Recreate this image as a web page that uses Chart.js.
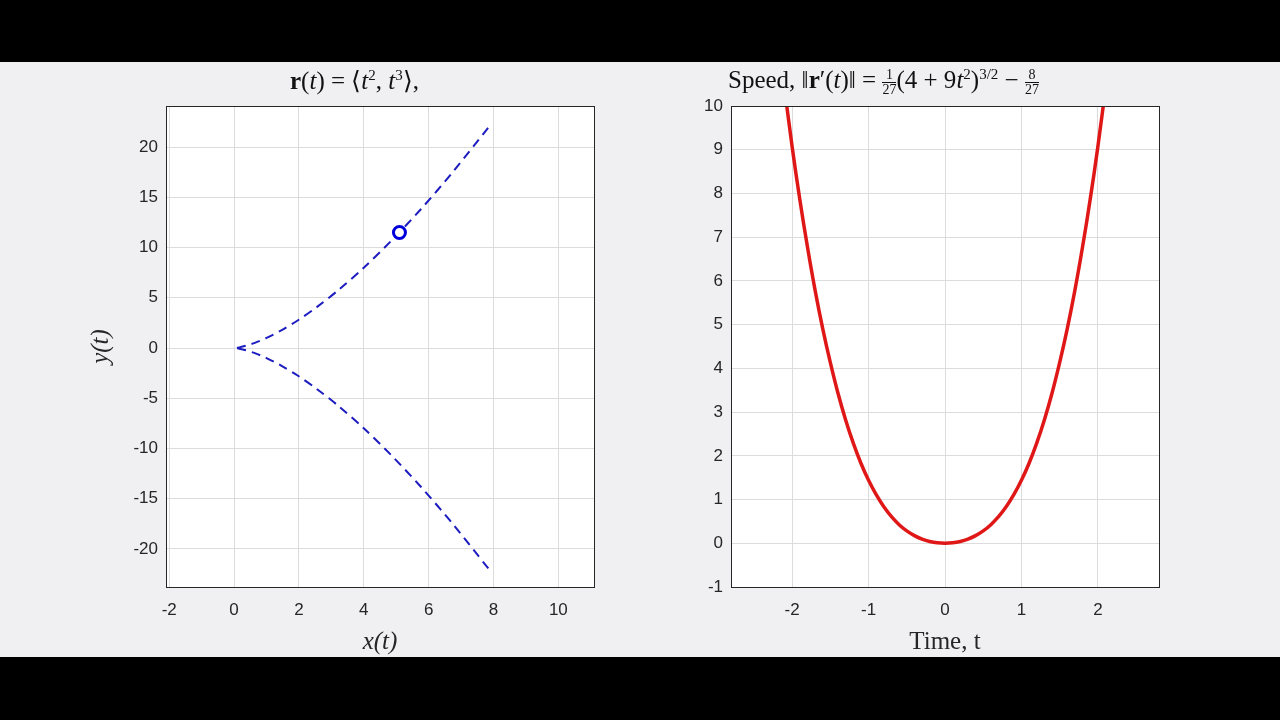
<!DOCTYPE html>
<html>
<head>
<meta charset="utf-8">
<script src="https://cdn.jsdelivr.net/npm/chart.js@4"></script>
<style>
  body { margin: 0; width: 1280px; height: 720px; background: #000; overflow: hidden; }
  #fig { position: absolute; left: 0; top: 62px; width: 1280px; height: 595px; background: #f0eff2; }
  .box { position: absolute; top: 0; width: 640px; height: 595px; }
  .ttl { position: absolute; top: 4px; font-family: "Liberation Serif", serif; font-size: 25px; color: #111; white-space: nowrap; }
  .ttl sup { font-size: 15px; }
  .frac { display: inline-block; vertical-align: middle; text-align: center; font-size: 14px; line-height: 14px; }
  .frac span { display: block; }
  .frac .num { border-bottom: 1px solid #111; padding: 0 1px; }
</style>
</head>
<body>
<div id="fig">
  <div class="box" style="left:0"><canvas id="pathChart"></canvas></div>
  <div class="box" style="left:640px"><canvas id="speedChart"></canvas></div>
  <div class="ttl" style="left:290px"><b>r</b>(<i>t</i>) = ⟨<i>t</i><sup>2</sup>, <i>t</i><sup>3</sup>⟩,</div>
  <div class="ttl" style="left:728px">Speed, ‖<b>r</b>′(<i>t</i>)‖ = <span class="frac"><span class="num">1</span><span>27</span></span>(4 + 9<i>t</i><sup>2</sup>)<sup>3/2</sup> − <span class="frac"><span class="num">8</span><span>27</span></span></div>
</div>
<script>
// path r(t) = (t^2, t^3)
const pathX = [7.84, 6.76, 5.76, 4.84, 4.00, 3.24, 2.56, 1.96, 1.44, 1.00, 0.64, 0.36, 0.16, 0.04, 0,
               0.04, 0.16, 0.36, 0.64, 1.00, 1.44, 1.96, 2.56, 3.24, 4.00, 4.84, 5.76, 6.76, 7.84];
const pathY = [-21.95, -17.58, -13.82, -10.65, -8.00, -5.83, -4.10, -2.74, -1.73, -1.00, -0.51, -0.22, -0.064, -0.008, 0,
               0.008, 0.064, 0.22, 0.51, 1.00, 1.73, 2.74, 4.10, 5.83, 8.00, 10.65, 13.82, 17.58, 21.95];
const markerX = [5.1];
const markerY = [11.5];

// speed curve
const timeT = [-2.1, -2.0, -1.9, -1.8, -1.7, -1.6, -1.5, -1.4, -1.3, -1.2, -1.1, -1.0, -0.9, -0.8, -0.7, -0.6, -0.5, -0.4, -0.3, -0.2, -0.1, 0,
               0.1, 0.2, 0.3, 0.4, 0.5, 0.6, 0.7, 0.8, 0.9, 1.0, 1.1, 1.2, 1.3, 1.4, 1.5, 1.6, 1.7, 1.8, 1.9, 2.0, 2.1];
const speed = [10.40, 9.07, 7.87, 6.78, 5.79, 4.91, 4.13, 3.43, 2.82, 2.29, 1.83, 1.44, 1.11, 0.833, 0.607, 0.425, 0.282, 0.174, 0.094, 0.041, 0.010, 0,
               0.010, 0.041, 0.094, 0.174, 0.282, 0.425, 0.607, 0.833, 1.11, 1.44, 1.83, 2.29, 2.82, 3.43, 4.13, 4.91, 5.79, 6.78, 7.87, 9.07, 10.40];

const leftXTicks = [-2, 0, 2, 4, 6, 8, 10];
const leftYTicks = [-20, -15, -10, -5, 0, 5, 10, 15, 20];
const rightXTicks = [-2, -1, 0, 1, 2];
const rightYTicks = [-1, 0, 1, 2, 3, 4, 5, 6, 7, 8, 9, 10];

const tickFont = { family: "Liberation Sans, Arial, sans-serif", size: 17 };
const titleFont = { family: "Liberation Serif, serif", size: 25, style: 'italic' };

const boxPlugin = {
  id: 'box',
  beforeDatasetsDraw(chart) {
    const a = chart.chartArea, ctx = chart.ctx;
    ctx.save();
    ctx.fillStyle = '#fff';
    ctx.globalCompositeOperation = 'destination-over';
    ctx.fillRect(a.left, a.top, a.right - a.left, a.bottom - a.top);
    ctx.restore();
  },
  afterDraw(chart) {
    const a = chart.chartArea, ctx = chart.ctx;
    ctx.save();
    ctx.strokeStyle = '#262626';
    ctx.lineWidth = 1;
    ctx.strokeRect(a.left + 0.5, a.top + 0.5, a.right - a.left, a.bottom - a.top);
    ctx.restore();
  }
};

function axis(min, max, ticks, pos, fit, title) {
  return {
    type: 'linear', position: pos, min: min, max: max,
    afterBuildTicks: s => { s.ticks = ticks.map(v => ({ value: v })); },
    afterFit: s => { if (pos === 'left') s.width = fit; else s.height = fit; },
    grid: { color: '#dcdcdc', drawTicks: false },
    border: { display: false },
    ticks: { font: tickFont, color: '#262626', padding: pos === 'left' ? 8 : 13, autoSkip: false, maxRotation: 0 },
    title: title ? { display: true, text: title, font: titleFont, color: '#262626', padding: 0 } : { display: false }
  };
}

new Chart(document.getElementById('pathChart'), {
  type: 'scatter',
  data: {
    datasets: [
      { data: markerX.map((x, i) => ({ x: x, y: markerY[i] })), pointRadius: 6, pointBorderWidth: 3,
        pointBorderColor: '#0000dd', pointBackgroundColor: '#fff', showLine: false },
      { data: pathX.map((x, i) => ({ x: x, y: pathY[i] })), showLine: true, borderColor: '#1c1cc0',
        borderWidth: 2, borderDash: [9, 6], pointRadius: 0, tension: 0.3 }
    ]
  },
  options: {
    responsive: true, maintainAspectRatio: false, animation: false,
    layout: { padding: { left: 86, right: 46, top: 44, bottom: 0 } },
    plugins: { legend: { display: false }, tooltip: { enabled: false } },
    scales: {
      x: axis(-2.1, 11.1, leftXTicks, 'bottom', 70, 'x(t)'),
      y: axis(-23.8, 24.1, leftYTicks, 'left', 80, 'y(t)')
    }
  },
  plugins: [boxPlugin]
});

new Chart(document.getElementById('speedChart'), {
  type: 'scatter',
  data: {
    datasets: [
      { data: timeT.map((t, i) => ({ x: t, y: speed[i] })), showLine: true, borderColor: '#e01717',
        borderWidth: 3.5, pointRadius: 0, tension: 0.4 }
    ]
  },
  options: {
    responsive: true, maintainAspectRatio: false, animation: false,
    layout: { padding: { left: 51, right: 121, top: 44, bottom: 0 } },
    plugins: { legend: { display: false }, tooltip: { enabled: false } },
    scales: {
      x: Object.assign(axis(-2.8, 2.8, rightXTicks, 'bottom', 70, ''),
        { title: { display: true, text: 'Time, t', font: { family: "Liberation Serif, serif", size: 25 }, color: '#262626', padding: 0 } }),
      y: axis(-1, 10, rightYTicks, 'left', 40, '')
    }
  },
  plugins: [boxPlugin]
});
</script>
</body>
</html>
